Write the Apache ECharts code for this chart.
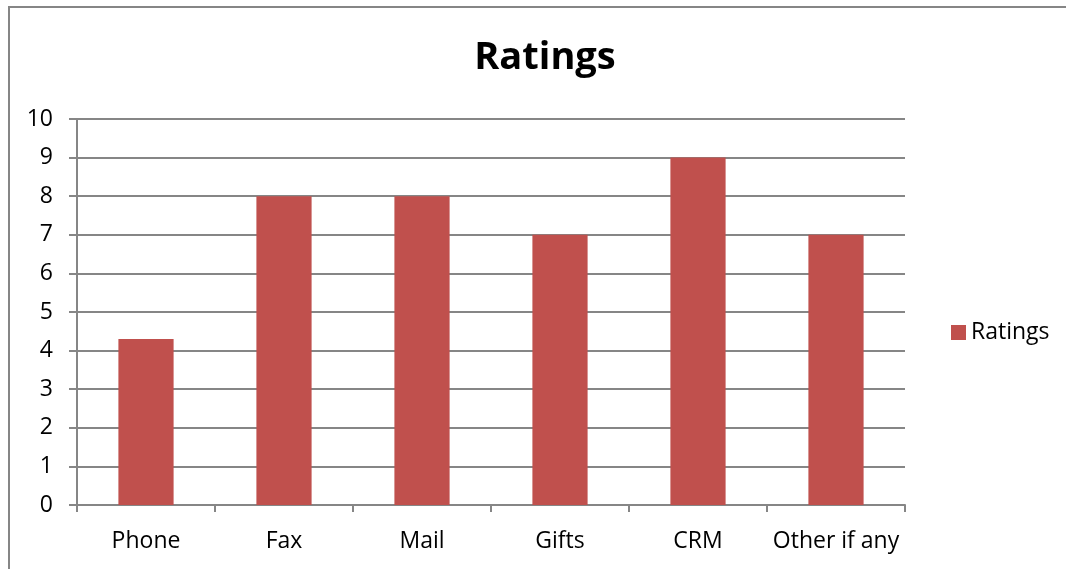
<!DOCTYPE html>
<html>
<head>
<meta charset="utf-8">
<script src="https://cdn.jsdelivr.net/npm/echarts@6/dist/echarts.min.js"></script>
<style>
  html, body { margin: 0; padding: 0; background: #fff; }
  #chart { width: 1066px; height: 569px; }
</style>
</head>
<body>
<div id="chart"></div>
<script>
const categories = ['Phone', 'Fax', 'Mail', 'Gifts', 'CRM', 'Other if any'];
const ratings = [4.3, 8, 8, 7, 9, 7];
const seriesName = 'Ratings';

const chart = echarts.init(document.getElementById('chart'));
const font = "'Open Sans', 'Liberation Sans', sans-serif";

const option = {
  animation: false,
  textStyle: { fontFamily: font },
  title: {
    text: 'Ratings',
    left: 540,
    textAlign: 'center',
    top: 34,
    textStyle: { fontSize: 38, fontWeight: 'bold', color: '#000', fontFamily: font }
  },
  legend: {
    data: [seriesName],
    orient: 'vertical',
    left: 946,
    top: 316,
    icon: 'rect',
    itemWidth: 15,
    itemHeight: 15,
    itemGap: 6,
    textStyle: { fontSize: 23, color: '#000', fontFamily: font }
  },
  graphic: [{
    type: 'rect',
    shape: { x: 9, y: 7, width: 1100, height: 620 },
    style: { fill: 'none', stroke: '#868686', lineWidth: 2 },
    silent: true
  }],
  grid: { left: 77, right: 161, top: 119, bottom: 64 },
  xAxis: {
    type: 'category',
    data: categories,
    axisLine: { lineStyle: { color: '#868686', width: 2 } },
    axisTick: { show: true, length: 7, interval: 0, lineStyle: { color: '#868686', width: 2 } },
    axisLabel: { fontSize: 23, color: '#000', margin: 25, interval: 0, fontFamily: font }
  },
  yAxis: {
    type: 'value',
    min: 0,
    max: 10,
    interval: 1,
    axisLine: { show: true, lineStyle: { color: '#868686', width: 2 } },
    axisTick: { show: true, length: 8, lineStyle: { color: '#868686', width: 2 } },
    axisLabel: { fontSize: 23, color: '#000', margin: 24, fontFamily: font },
    splitLine: { lineStyle: { color: '#868686', width: 2 } }
  },
  series: [{
    name: seriesName,
    type: 'bar',
    data: ratings,
    barWidth: '40%',
    itemStyle: { color: '#C0504D' }
  }]
};
chart.setOption(option);
</script>
</body>
</html>
